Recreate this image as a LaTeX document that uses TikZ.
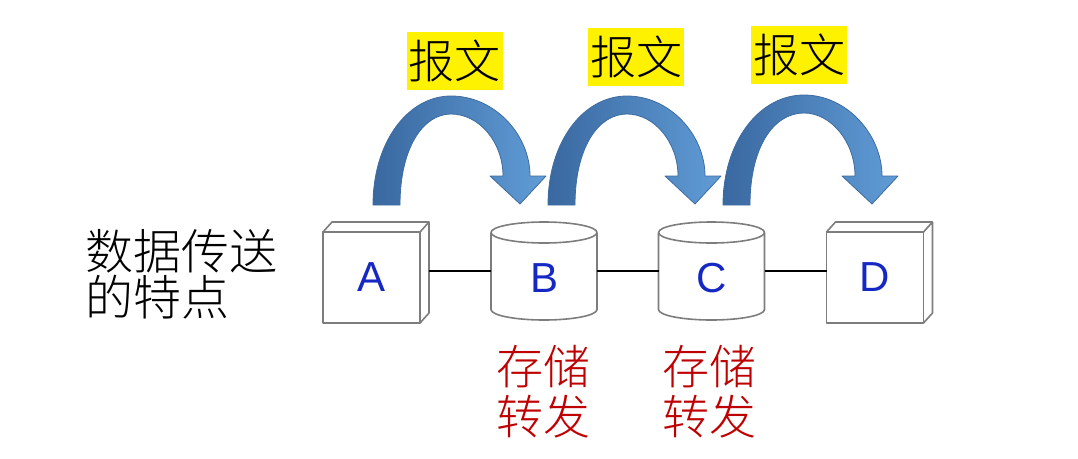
\documentclass[tikz,border=0pt]{standalone}
\usepackage{fontspec}
\setmainfont{Liberation Sans}
\newfontfamily\cjk{Noto Sans CJK SC Light}
\usepackage{xcolor}
\usepackage{tikz}
\usetikzlibrary{positioning}
\definecolor{arrowdark}{RGB}{58,104,160}
\definecolor{arrowlight}{RGB}{96,156,214}
\definecolor{arrowedge}{RGB}{62,108,160}
\definecolor{boxgray}{RGB}{125,125,125}
\definecolor{nodeblue}{RGB}{22,40,196}
\definecolor{storered}{RGB}{190,0,0}
\tikzstyle{boxline} = [draw=boxgray, line width=1.6pt, line join=round]
\tikzstyle{face} = [boxline, fill=white, inner sep=0pt, outer sep=0pt, minimum width=97pt, minimum height=91pt, text=nodeblue, font=\fontsize{42}{50}\selectfont]
\tikzstyle{drum} = [inner sep=0pt, outer sep=0pt, minimum width=106pt, minimum height=77pt, text=nodeblue, text height=42pt, text depth=0pt, font=\fontsize{42}{50}\selectfont]
\tikzstyle{link} = [line width=1.3pt, black]
\tikzstyle{msg} = [fill=yellow, inner sep=0pt, minimum width=96pt, minimum height=58pt, font=\cjk\fontsize{46}{46}\selectfont]
\tikzstyle{store} = [align=center, text=storered, inner sep=0pt, font=\cjk\fontsize{47}{50}\selectfont]
\tikzstyle{bigarrow} = [left color=arrowdark, right color=arrowlight, draw=arrowedge, line width=0.8pt, line join=round]

\begin{document}
\begin{tikzpicture}[x=1pt, y=-1pt]
    \useasboundingbox (0,0) rectangle (1078,458);

    % Left caption
    \node[align=left, inner sep=0pt, anchor=west, font=\cjk\fontsize{48}{46}\selectfont] (caption) at (85,274) {数据传送\\的特点};

    % Hosts A and D (boxes)
    \node[face] (A) at (371.5,277.5) {A};
    \draw[boxline] (A.north west) -- ++(9,-10) -- ++(97,0) -- ++(0,91) -- (A.south east)
        (A.north east) -- ++(9,-10);
    \node[face] (D) at (875,277.5) {D};
    \draw[boxline] (D.north west) -- ++(9,-10) -- ++(97,0) -- ++(0,91) -- (D.south east)
        (D.north east) -- ++(9,-10);

    % Switching nodes B and C (drums)
    \node[drum] (B) at (544,271) {B};
    \draw[boxline] (B.north west) -- (B.south west)
        arc[start angle=180, end angle=360, x radius=53pt, y radius=10.5pt] -- (B.north east);
    \draw[boxline] (B.north) ellipse[x radius=53pt, y radius=10.5pt];
    \node[drum] (C) at (711.5,271) {C};
    \draw[boxline] (C.north west) -- (C.south west)
        arc[start angle=180, end angle=360, x radius=53pt, y radius=10.5pt] -- (C.north east);
    \draw[boxline] (C.north) ellipse[x radius=53pt, y radius=10.5pt];

    % Links
    \draw[link] ([xshift=9pt]A.east |- B.west) -- (B.west);
    \draw[link] (B.east) -- (C.west);
    \draw[link] (C.east) -- (C.east -| D.west);

    % Store and forward labels
    \node[store] (storeB) at (543,392) {存储\\转发};
    \node[store] (storeC) at (709,392) {存储\\转发};

    % Message hops
    \shadedraw[bigarrow, shift={(373,0)}] (0,205) .. controls (0,142) and (35,96) .. (78,96)
        .. controls (122,96) and (157,135) .. (157,176) -- (173,176) -- (147,204) -- (117,176) -- (130,176)
        .. controls (130,142) and (106,114) .. (78,114) .. controls (50,114) and (27,148) .. (27,205) -- cycle;
    \shadedraw[bigarrow, shift={(548,0)}] (0,205) .. controls (0,142) and (35,96) .. (79,96)
        .. controls (122,96) and (157,135) .. (157,176) -- (173,176) -- (147,204) -- (117,176) -- (130,176)
        .. controls (130,142) and (106,114) .. (79,114) .. controls (50,114) and (27,148) .. (27,205) -- cycle;
    \shadedraw[bigarrow, shift={(723,0)}] (0,205) .. controls (0,142) and (36,95) .. (81,95)
        .. controls (124,95) and (159,135) .. (159,176) -- (175,176) -- (149,204) -- (119,176) -- (132,176)
        .. controls (132,142) and (108,113) .. (81,113) .. controls (50,113) and (27,148) .. (27,205) -- cycle;

    % Message labels
    \node[msg] (msg1) at (454.5,61) {报文};
    \node[msg] (msg2) at (636,57) {报文};
    \node[msg] (msg3) at (799,54.5) {报文};
\end{tikzpicture}
\end{document}
